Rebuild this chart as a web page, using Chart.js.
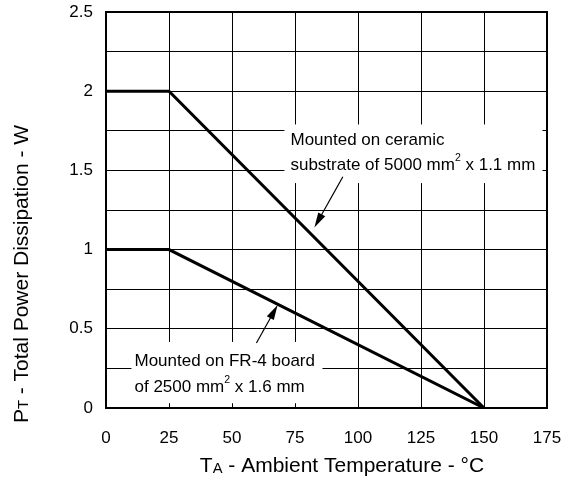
<!DOCTYPE html>
<html>
<head>
<meta charset="utf-8">
<script src="https://cdn.jsdelivr.net/npm/chart.js@4.4.1/dist/chart.umd.min.js"></script>
<style>
  html, body { margin: 0; padding: 0; background: #fff; }
  #wrap { width: 573px; height: 484px; }
</style>
</head>
<body>
<div id="wrap"><canvas id="derating"></canvas></div>
<script>
// data
var temps = [0, 25, 150];
var ceramicPower = [2, 2, 0];
var fr4Power = [1, 1, 0];
var xTicks = [0, 25, 50, 75, 100, 125, 150, 175];
var yTicks = [0, 0.5, 1, 1.5, 2, 2.5];

var FONT = "'Liberation Sans', Arial, sans-serif";

// label placement (data units)
var notes = [
  {
    box: [70.8, 1.79, 173.2, 1.42],
    x: 73.2,
    lines: [
      { y: 1.69, runs: [["Mounted on ceramic"]] },
      { y: 1.535, runs: [["substrate of 5000 mm"], ["2", "sup"], [" x 1.1 mm"]] }
    ],
    arrow: [94, 1.46, 82.7, 1.14]
  },
  {
    box: [10.1, 0.417, 85.9, 0.03],
    x: 11.3,
    lines: [
      { y: 0.297, runs: [["Mounted on FR-4 board"]] },
      { y: 0.133, runs: [["of 2500 mm"], ["2", "sup"], [" x 1.6 mm"]] }
    ],
    arrow: [59.7, 0.41, 68.1, 0.65]
  }
];

function drawRuns(ctx, runs, x, y, size) {
  ctx.textBaseline = "middle";
  ctx.textAlign = "left";
  runs.forEach(function (r) {
    var s = size, dy = 0;
    if (r[1] === "sup") { s = size * 0.62; dy = -size * 0.4; }
    if (r[1] === "sub") { s = size * 0.7; dy = size * 0.12; }
    ctx.font = s + "px " + FONT;
    ctx.fillText(r[0], x, y + dy);
    x += ctx.measureText(r[0]).width;
  });
}

function runsWidth(ctx, runs, size) {
  var w = 0;
  runs.forEach(function (r) {
    var s = r[1] ? size * (r[1] === "sup" ? 0.62 : 0.7) : size;
    ctx.font = s + "px " + FONT;
    w += ctx.measureText(r[0]).width;
  });
  return w;
}

var notesPlugin = {
  id: "notes",
  beforeDatasetsDraw: function (chart) {
    var ctx = chart.ctx, xs = chart.scales.x, ys = chart.scales.y;
    ctx.save();
    ctx.fillStyle = "#fff";
    notes.forEach(function (n) {
      var x0 = xs.getPixelForValue(n.box[0]), y0 = ys.getPixelForValue(n.box[1]);
      var x1 = xs.getPixelForValue(n.box[2]), y1 = ys.getPixelForValue(n.box[3]);
      ctx.fillRect(x0, y0, x1 - x0, y1 - y0);
    });
    // frame of the plot
    var a = chart.chartArea;
    ctx.strokeStyle = "#000";
    ctx.lineWidth = 2;
    ctx.strokeRect(a.left, a.top, a.right - a.left, a.bottom - a.top);
    ctx.restore();
  },
  afterDatasetsDraw: function (chart) {
    var ctx = chart.ctx, xs = chart.scales.x, ys = chart.scales.y;
    ctx.save();
    ctx.fillStyle = "#000";
    ctx.strokeStyle = "#000";
    notes.forEach(function (n) {
      n.lines.forEach(function (l) {
        drawRuns(ctx, l.runs, xs.getPixelForValue(n.x), ys.getPixelForValue(l.y), 17);
      });
      var ax = xs.getPixelForValue(n.arrow[0]), ay = ys.getPixelForValue(n.arrow[1]);
      var bx = xs.getPixelForValue(n.arrow[2]), by = ys.getPixelForValue(n.arrow[3]);
      var ang = Math.atan2(by - ay, bx - ax);
      var hl = 15, hw = 4;
      ctx.lineWidth = 1.2;
      ctx.beginPath();
      ctx.moveTo(ax, ay);
      ctx.lineTo(bx - Math.cos(ang) * hl * 0.8, by - Math.sin(ang) * hl * 0.8);
      ctx.stroke();
      ctx.beginPath();
      ctx.moveTo(bx, by);
      ctx.lineTo(bx - Math.cos(ang) * hl - Math.sin(ang) * hw, by - Math.sin(ang) * hl + Math.cos(ang) * hw);
      ctx.lineTo(bx - Math.cos(ang) * hl + Math.sin(ang) * hw, by - Math.sin(ang) * hl - Math.cos(ang) * hw);
      ctx.closePath();
      ctx.fill();
    });

    // axis titles with subscripts
    var xRuns = [["T"], ["A", "sub"], [" - Ambient Temperature - \u00b0C"]];
    var w = runsWidth(ctx, xRuns, 21);
    drawRuns(ctx, xRuns, 342 - w / 2, 466, 21);

    var yRuns = [["P"], ["T", "sub"], [" - Total Power Dissipation - W"]];
    w = runsWidth(ctx, yRuns, 20);
    ctx.translate(22, 274);
    ctx.rotate(-Math.PI / 2);
    ctx.scale(298 / w, 1);
    drawRuns(ctx, yRuns, -w / 2, 0, 20);
    ctx.restore();
  }
};

var config = {
  type: "line",
  data: {
    datasets: [
      {
        label: "Ceramic substrate",
        data: temps.map(function (t, i) { return { x: t, y: ceramicPower[i] }; }),
        borderColor: "#000",
        borderWidth: 3,
        pointRadius: 0,
        tension: 0
      },
      {
        label: "FR-4 board",
        data: temps.map(function (t, i) { return { x: t, y: fr4Power[i] }; }),
        borderColor: "#000",
        borderWidth: 3,
        pointRadius: 0,
        tension: 0
      }
    ]
  },
  options: {
    responsive: true,
    maintainAspectRatio: false,
    animation: false,
    events: [],
    layout: { padding: { top: 12, right: 26, left: 0, bottom: 0 } },
    plugins: {
      legend: { display: false },
      title: { display: false },
      tooltip: { enabled: false }
    },
    scales: {
      x: {
        type: "linear",
        min: 0,
        max: 175,
        afterBuildTicks: function (s) { s.ticks = xTicks.map(function (v) { return { value: v }; }); },
        afterFit: function (s) {
          s.height = 76;
          s.paddingLeft = 0; s.paddingRight = 0;
        },
        ticks: { color: "#000", padding: 20, maxRotation: 0, font: { family: FONT, size: 17 } },
        grid: { color: "#000", lineWidth: 1, drawTicks: false },
        border: { color: "#000", width: 2 }
      },
      y: {
        min: 0,
        max: 2.5,
        ticks: {
          stepSize: 0.25,
          color: "#000",
          padding: 13,
          font: { family: FONT, size: 17 },
          callback: function (v) { return yTicks.indexOf(v) >= 0 ? String(v) : ""; }
        },
        afterFit: function (s) {
          s.width = 106;
          s.paddingTop = 0; s.paddingBottom = 0;
        },
        grid: { color: "#000", lineWidth: 1, drawTicks: false },
        border: { color: "#000", width: 2 }
      }
    }
  },
  plugins: [notesPlugin]
};

var derating = new Chart(document.getElementById("derating"), config);
</script>
</body>
</html>
